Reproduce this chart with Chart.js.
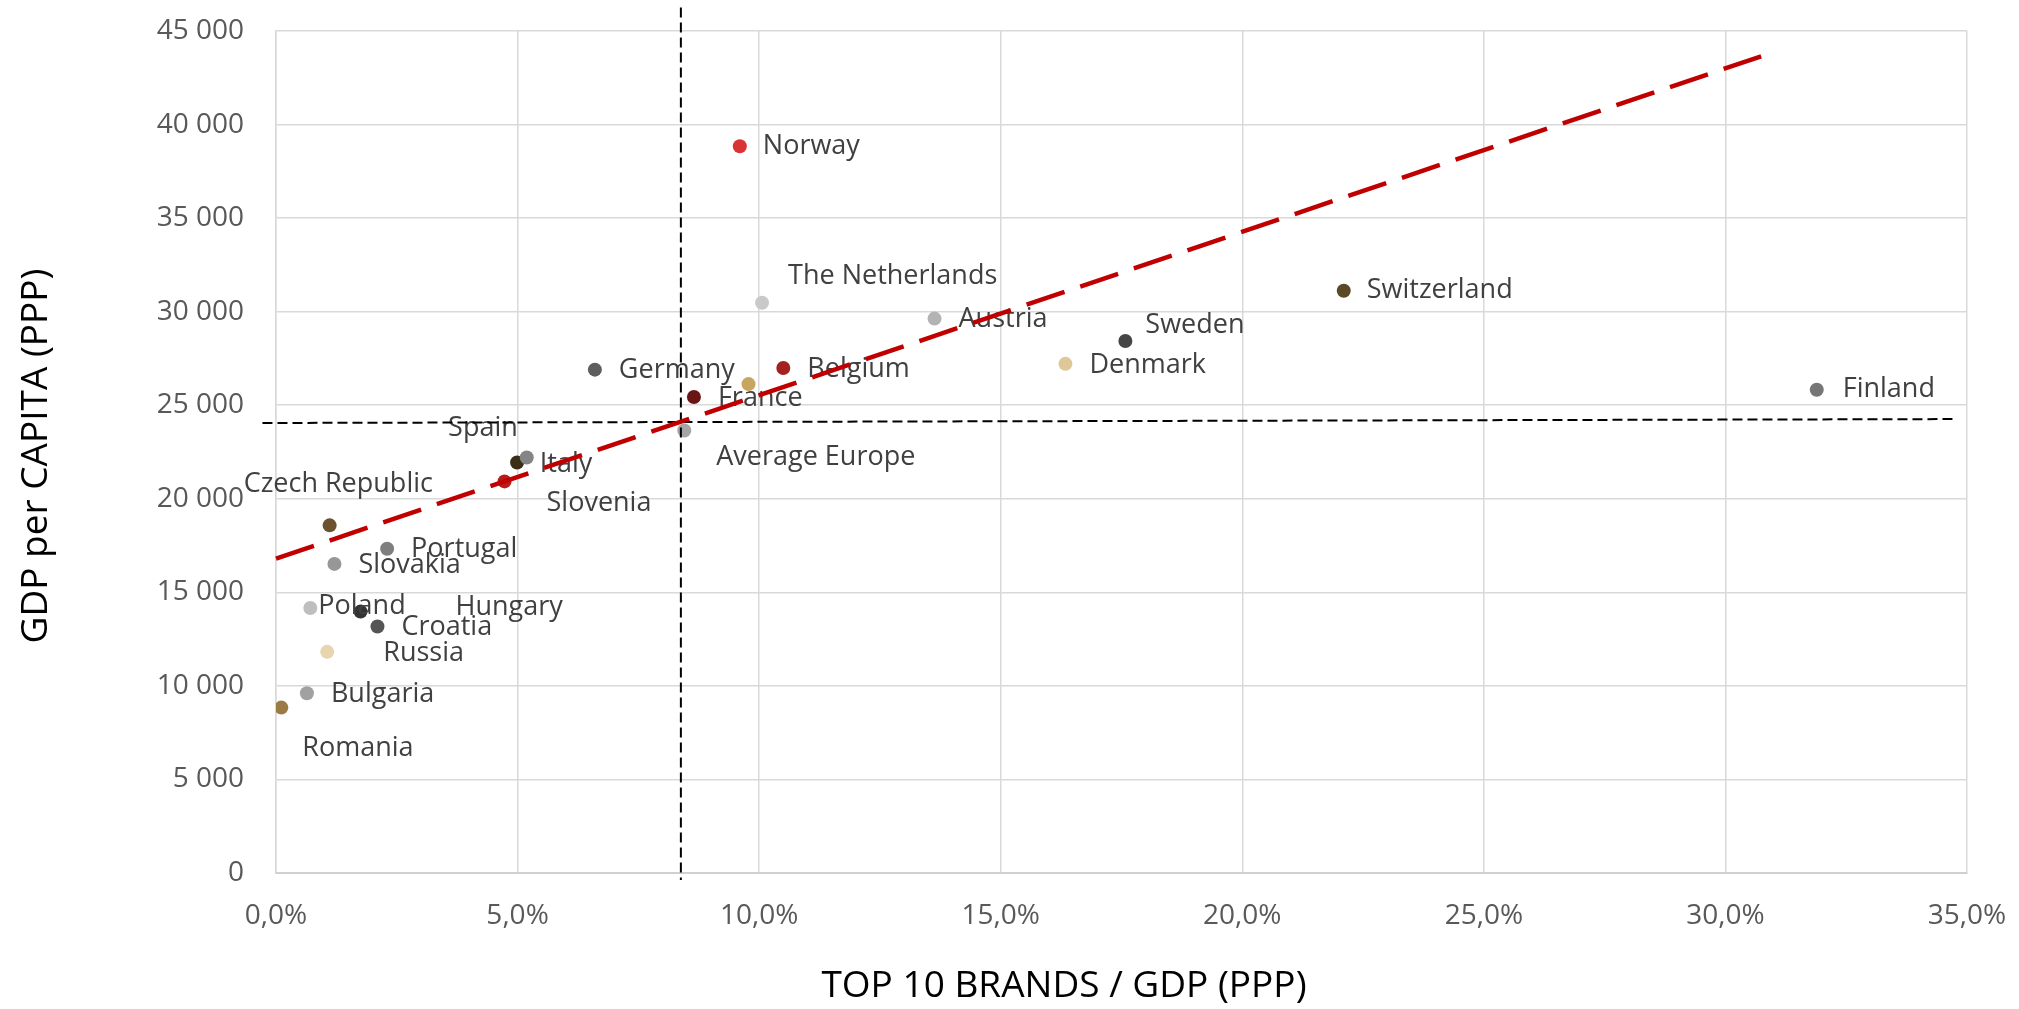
<!DOCTYPE html>
<html>
<head>
<meta charset="utf-8">
<title>GDP per capita vs top 10 brands</title>
<script src="https://cdn.jsdelivr.net/npm/chart.js@4/dist/chart.umd.min.js"></script>
<style>
  html, body { margin: 0; padding: 0; background: #ffffff; }
  #wrap { width: 2019px; height: 1009px; }
</style>
</head>
<body>
<div id="wrap"><canvas id="chart" width="2019" height="1009"></canvas></div>
<script>
// ---- data -------------------------------------------------------------
const countries = [
  "Norway", "The Netherlands", "Austria", "Sweden", "Switzerland", "Denmark",
  "Finland", "Germany", "", "Belgium", "France", "Average Europe", "Spain",
  "Italy", "Slovenia", "Czech Republic", "Portugal", "Slovakia", "Poland",
  "Hungary", "Croatia", "Russia", "Bulgaria", "Romania"
];
// top 10 brands value as share of GDP (PPP), in percent
const brandShare = [
  9.60, 10.06, 13.63, 17.58, 22.10, 16.34,
  31.89, 6.60, 9.78, 10.50, 8.65, 8.45, 4.99,
  5.19, 4.73, 1.11, 2.30, 1.21, 0.71,
  1.75, 2.10, 1.06, 0.64, 0.11
];
// GDP per capita (PPP)
const gdpPerCapita = [
  38840, 30480, 29630, 28430, 31120, 27210,
  25830, 26900, 26130, 26990, 25440, 23650, 21940,
  22210, 20930, 18580, 17330, 16520, 14160,
  13970, 13170, 11820, 9610, 8840
];
const pointColors = [
  "#D93434", "#C9C9C9", "#B3B3B3", "#454545", "#5B4826", "#DEC897",
  "#767676", "#5E5E5E", "#C9A660", "#A32121", "#6A1515", "#A5A5A5", "#3B2E17",
  "#858585", "#B51D1D", "#6A532E", "#7F7F7F", "#979797", "#BEBEBE",
  "#333333", "#555555", "#E8D4AF", "#A1A1A1", "#9A7B44"
];

// linear trend line (end points)
const trendX = [0, 30.74];
const trendY = [16800, 43650];
// European averages: vertical and horizontal reference lines
const avgLineVX = [8.38, 8.38];
const avgLineVY = [46250, -380];
const avgLineHX = [-0.28, 34.8];
const avgLineHY = [24050, 24260];

// axis ticks
const xTickValues = [0, 5, 10, 15, 20, 25, 30, 35];
const yTickValues = [0, 5000, 10000, 15000, 20000, 25000, 30000, 35000, 40000, 45000];
const xTitle = "TOP 10 BRANDS / GDP (PPP)";
const yTitle = "GDP per CAPITA (PPP)";

// ---- label placement (pixel offset of label's left edge from the point) --
const defaultLabelOffset = [24, 1];
const labelOffsets = {
  "Norway": [23, 0],
  "The Netherlands": [26, -26],
  "Sweden": [20, -16],
  "Average Europe": [32, 27],
  "Switzerland": [23, 0],
  "Finland": [26, 0],
  "Spain": [-69, -34],
  "Italy": [13, 7],
  "Czech Republic": [-86, -41],
  "Slovenia": [42, 22],
  "Poland": [8, -2],
  "Hungary": [95, -4],
  "Russia": [56, 1],
  "Romania": [21, 41]
};

const FONT = '"Open Sans", "Liberation Sans", sans-serif';
const fmtThousands = v => String(v).replace(/\B(?=(\d{3})+(?!\d))/g, "\u00a0");
const fmtPercent = v => v.toFixed(1).replace(".", ",") + "%";

const POINTS_INDEX = 3;

// country names next to the points, drawn before the reference lines
const pointLabels = {
  id: "pointLabels",
  afterDatasetDraw(chart, args) {
    if (args.index !== POINTS_INDEX) return;
    const ctx = chart.ctx;
    ctx.save();
    ctx.font = "27px " + FONT;
    ctx.fillStyle = "#404040";
    ctx.textAlign = "left";
    ctx.textBaseline = "middle";
    args.meta.data.forEach((pt, i) => {
      const name = countries[i];
      if (!name) return;
      const off = labelOffsets[name] || defaultLabelOffset;
      ctx.fillText(name, pt.x + off[0], pt.y + off[1]);
    });
    ctx.restore();
  }
};

// axis titles
const axisTitles = {
  id: "axisTitles",
  afterDraw(chart) {
    const ctx = chart.ctx;
    ctx.save();
    ctx.font = "37px " + FONT;
    ctx.fillStyle = "#000000";
    ctx.textAlign = "center";
    ctx.textBaseline = "middle";
    ctx.fillText(xTitle, 1064, 986);
    ctx.translate(36, 456);
    ctx.rotate(-Math.PI / 2);
    ctx.fillText(yTitle, 0, 0);
    ctx.restore();
  }
};

const toXY = (xs, ys) => xs.map((x, i) => ({ x: x, y: ys[i] }));

function build() {
  new Chart(document.getElementById("chart"), {
    type: "scatter",
    data: {
      datasets: [
        {
          label: "trend",
          data: toXY(trendX, trendY),
          showLine: true,
          borderColor: "#C00000",
          borderWidth: 4.5,
          borderDash: [40, 16.6],
          pointRadius: 0,
          clip: false
        },
        {
          label: "avg vertical",
          data: toXY(avgLineVX, avgLineVY),
          showLine: true,
          borderColor: "#000000",
          borderWidth: 2,
          borderDash: [10, 5],
          pointRadius: 0,
          clip: false
        },
        {
          label: "avg horizontal",
          data: toXY(avgLineHX, avgLineHY),
          showLine: true,
          borderColor: "#000000",
          borderWidth: 2,
          borderDash: [10, 5],
          pointRadius: 0,
          clip: false
        },
        {
          label: "countries",
          data: toXY(brandShare, gdpPerCapita),
          pointRadius: 7,
          pointHoverRadius: 7,
          pointBackgroundColor: pointColors,
          pointBorderColor: pointColors,
          pointBorderWidth: 0
        }
      ]
    },
    options: {
      responsive: false,
      animation: false,
      events: [],
      layout: { padding: { top: 31, right: 52, left: 0, bottom: 0 } },
      plugins: {
        legend: { display: false },
        tooltip: { enabled: false }
      },
      scales: {
        x: {
          type: "linear",
          min: 0,
          max: 35,
          afterFit(scale) {
            scale.height = 136;
            scale.paddingLeft = 0;
            scale.paddingRight = 0;
          },
          afterBuildTicks(scale) { scale.ticks = xTickValues.map(v => ({ value: v })); },
          grid: { color: "#D9D9D9", lineWidth: 1.5, drawTicks: false },
          border: { color: "#D0D0D0", width: 2 },
          ticks: {
            padding: 26,
            color: "#595959",
            font: { family: FONT, size: 28 },
            maxRotation: 0,
            callback: v => fmtPercent(v)
          }
        },
        y: {
          type: "linear",
          min: 0,
          max: 45000,
          afterFit(scale) {
            scale.width = 276;
            scale.paddingTop = 0;
            scale.paddingBottom = 0;
          },
          afterBuildTicks(scale) { scale.ticks = yTickValues.map(v => ({ value: v })); },
          grid: { color: "#D9D9D9", lineWidth: 1.5, drawTicks: false },
          border: { color: "#D9D9D9", width: 1.5 },
          ticks: {
            padding: 32,
            color: "#595959",
            font: { family: FONT, size: 28 },
            callback: v => fmtThousands(v)
          }
        }
      }
    },
    plugins: [pointLabels, axisTitles]
  });
}

if (document.fonts && document.fonts.load) {
  Promise.all([
    document.fonts.load('27px "Open Sans"'),
    document.fonts.load('37px "Open Sans"')
  ]).then(build, build);
} else {
  build();
}
</script>
</body>
</html>
